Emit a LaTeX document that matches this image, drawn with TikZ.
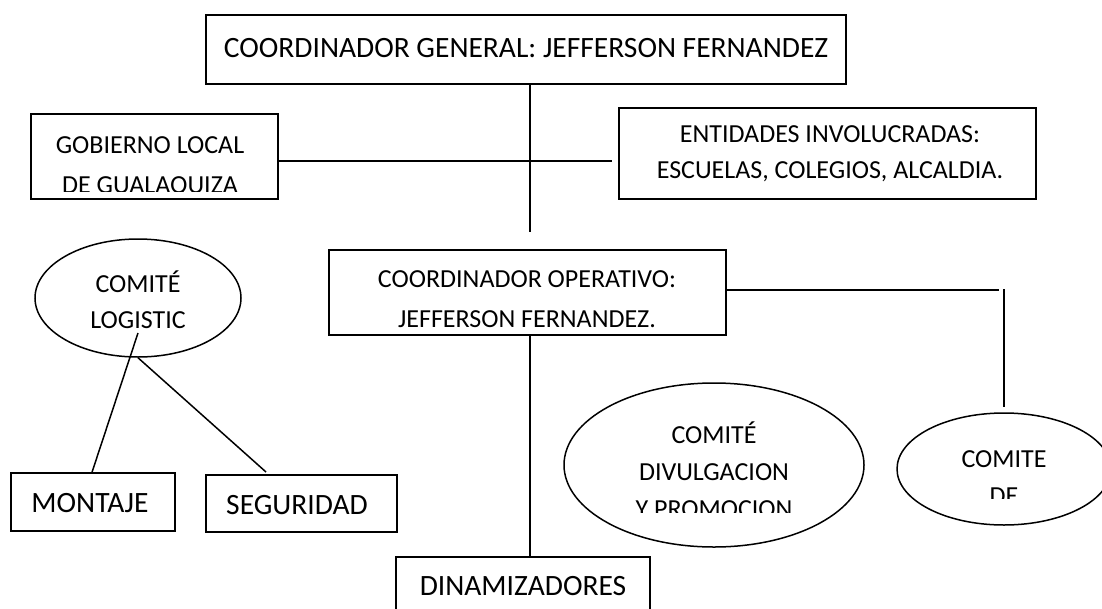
\documentclass[tikz,border=0pt]{standalone}
\usepackage{fontspec}
\setmainfont{Carlito}
\usetikzlibrary{shapes.geometric}
\begin{document}
\begin{tikzpicture}[x=1pt,y=-1pt,
  boxshape/.style={draw, rectangle, inner sep=0pt, line width=1.5pt},
  ovalshape/.style={draw, ellipse, inner sep=0pt, line width=1.5pt},
  lbl/.style={font=\fontsize{26}{37}\selectfont, inner sep=0pt, anchor=base},
  biglbl/.style={font=\fontsize{29.5}{37}\selectfont, inner sep=0pt, anchor=base},
  link/.style={line width=1.5pt}]
\useasboundingbox (0,0) rectangle (1102,608);
\fill[white] (0,0) rectangle (1102,608);
\clip (0,0) rectangle (1102,608);

% shapes
\node[boxshape, minimum width=640pt, minimum height=69pt] (cg) at (526,49.5) {};
\node[boxshape, minimum width=247pt, minimum height=85pt] (gob) at (154.5,156.5) {};
\node[boxshape, minimum width=417pt, minimum height=91pt] (ent) at (827.5,153.5) {};
\node[boxshape, minimum width=397pt, minimum height=85pt] (op) at (527.5,292.5) {};
\node[boxshape, minimum width=164pt, minimum height=58pt] (mont) at (93,502) {};
\node[boxshape, minimum width=191pt, minimum height=57pt] (seg) at (301.5,503.5) {};
\node[boxshape, minimum width=254pt, minimum height=90pt] (din) at (523,602) {};
\node[ovalshape, minimum width=206pt, minimum height=118pt] (log) at (138,298) {};
\node[ovalshape, minimum width=300pt, minimum height=164pt] (div) at (714,465) {};
\node[ovalshape, minimum width=214pt, minimum height=112pt] (cde) at (1004,469) {};

% texts
\node[biglbl] (cgT) at (526,57) {COORDINADOR GENERAL: JEFFERSON FERNANDEZ};
\begin{scope}
  \clip (gob.north west) rectangle ([yshift=8pt]gob.south east);
  \node[lbl] (gobT1) at (150,153) {GOBIERNO LOCAL};
  \node[lbl] (gobT2) at (150,193) {DE GUALAQUIZA};
\end{scope}
\node[lbl] (entT1) at (830,142) {ENTIDADES INVOLUCRADAS:};
\node[lbl] (entT2) at (830,178) {ESCUELAS, COLEGIOS, ALCALDIA.};
\node[lbl] (opT1) at (527,287) {COORDINADOR OPERATIVO:};
\node[lbl] (opT2) at (527,327) {JEFFERSON FERNANDEZ.};
\node[lbl] (logT1) at (138,292) {COMITÉ};
\node[lbl] (logT2) at (138,328) {LOGISTIC};
\node[biglbl] (montT) at (90,512) {MONTAJE};
\node[biglbl] (segT) at (297,514) {SEGURIDAD};
\node[biglbl] (dinT) at (523,595) {DINAMIZADORES};
\begin{scope}
  \clip ([yshift=35pt]div.west |- div.south) rectangle (div.east |- div.north);
  \node[lbl] (divT1) at (714,443) {COMITÉ};
  \node[lbl] (divT2) at (714,480) {DIVULGACION};
  \node[lbl] (divT3) at (714,517) {Y PROMOCION};
\end{scope}
\begin{scope}
  \clip ([yshift=27pt]cde.west |- cde.south) rectangle (cde.east |- cde.north);
  \node[lbl] (cdeT1) at (1004,467) {COMITE};
  \node[lbl] (cdeT2) at (1004,504) {DE};
\end{scope}

% connector end points
\coordinate (v1end) at (530,232);
\coordinate (hl) at (612,161);
\coordinate (oprt) at (999,290);
\coordinate (vrTop) at (1004,289);
\coordinate (vrBot) at (1004,407);
\coordinate (vx) at (530,450);
\coordinate (lgA) at (138,333);
\coordinate (mA) at (92,473);
\coordinate (sB) at (266,472);

% connectors
\draw[link] (cg.south -| v1end) -- (v1end);
\draw[link] (gob.east |- hl) -- (hl);
\draw[link] (op.east |- oprt) -- (oprt);
\draw[link] (vrTop) -- (vrBot);
\draw[link] (op.south -| vx) -- (din.north -| vx);
\draw[link] (lgA) -- (mont.north -| mA);
\draw[link] (log.south) -- (sB);
\end{tikzpicture}
\end{document}
